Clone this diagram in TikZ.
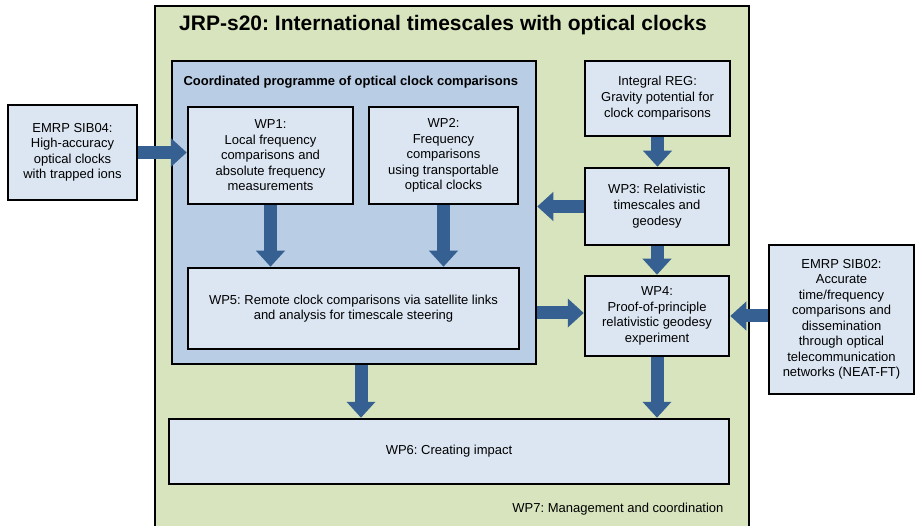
\documentclass[tikz,border=0pt]{standalone}
\usepackage{fontspec}
\setmainfont{Liberation Sans}
\usetikzlibrary{calc}
\usetikzlibrary{arrows.meta}
\definecolor{jrpgreen}{HTML}{D7E4BD}
\definecolor{progblue}{HTML}{B9CDE5}
\definecolor{wpfill}{HTML}{DCE6F2}
\definecolor{flowblue}{HTML}{366092}
\frenchspacing

\begin{document}
\begin{tikzpicture}[x=1pt,y=-1pt,
    wp/.style={draw=black,line width=2.5pt,fill=wpfill,align=center,inner sep=0pt,
      font=\fontsize{13}{15.5}\selectfont},
    flow/.style={draw=flowblue,line width=13pt,-{Triangle[width=28pt,length=16pt]}}]
    \clip (0,0) rectangle (915,526);
    % frames
    \node[draw=black,line width=2pt,fill=jrpgreen,minimum width=594,minimum height=540] (JRP) at (452,276) {};
    \node[font=\bfseries\fontsize{21}{24}\selectfont] (T) at (443,25) {JRP-s20: International timescales with optical clocks};
    \node[draw=black,line width=2.5pt,fill=progblue,minimum width=364,minimum height=303] (P) at (354,212.5) {};
    \node[anchor=west,font=\bfseries\fontsize{13}{15}\selectfont] (PT) at (180,82) {Coordinated programme of optical clock comparisons};
    % work packages
    \node[wp,minimum width=165,minimum height=97] (WP1) at (270.5,155.5) {WP1:\\Local frequency\\comparisons and\\absolute frequency\\measurements};
    \node[wp,minimum width=149,minimum height=97] (WP2) at (443.5,155.5) {WP2:\\Frequency\\comparisons\\using transportable\\optical clocks};
    \node[wp,minimum width=331,minimum height=81] (WP5) at (353.5,308.5) {WP5: Remote clock comparisons via satellite links\\and analysis for timescale steering};
    \node[wp,minimum width=145,minimum height=75,font=\fontsize{13}{16}\selectfont] (REG) at (657.5,98.5) {Integral REG:\\Gravity potential for\\clock comparisons};
    \node[wp,minimum width=144,minimum height=77,font=\fontsize{13}{16}\selectfont] (WP3) at (657,206.5) {WP3: Relativistic\\timescales and\\geodesy};
    \node[wp,minimum width=144,minimum height=80] (WP4) at (657,316) {WP4:\\Proof-of-principle\\relativistic geodesy\\experiment};
    \node[wp,minimum width=560,minimum height=65] (WP6) at (449,451.5) {WP6: Creating impact};
    \node[anchor=east,font=\fontsize{13}{15}\selectfont] (WP7) at (727,509) {WP7: Management and coordination};
    % other projects
    \node[wp,minimum width=129,minimum height=95] (S04) at (72.5,152.5) {EMRP SIB04:\\High-accuracy\\optical clocks\\with trapped ions};
    \node[wp,minimum width=145,minimum height=149] (S02) at (841.5,319.5) {EMRP SIB02:\\Accurate\\time/frequency\\comparisons and\\dissemination\\through optical\\telecommunication\\networks (NEAT-FT)};
    % arrows
    \draw[flow] (S04.east) -- (S04.east -| WP1.west);
    \draw[flow] (WP1) -- (WP1 |- WP5.north);
    \draw[flow] (WP2) -- (WP2 |- WP5.north);
    \draw[flow] (REG) -- (REG |- WP3.north);
    \draw[flow] (WP3.west) -- (WP3.west -| P.east);
    \draw[flow] (WP3) -- (WP3 |- WP4.north);
    \draw[flow] ($(WP4.west -| P.east)+(0,-3)$) -- ($(WP4.west)+(0,-3)$);
    \draw[flow] (S02.west |- WP4.east) -- (WP4.east);
    \draw[flow] ($(P.south)+(7,0)$) -- ($(P.south |- WP6.north)+(7,0)$);
    \draw[flow] (WP4) -- (WP4 |- WP6.north);
  \end{tikzpicture}
\end{document}
